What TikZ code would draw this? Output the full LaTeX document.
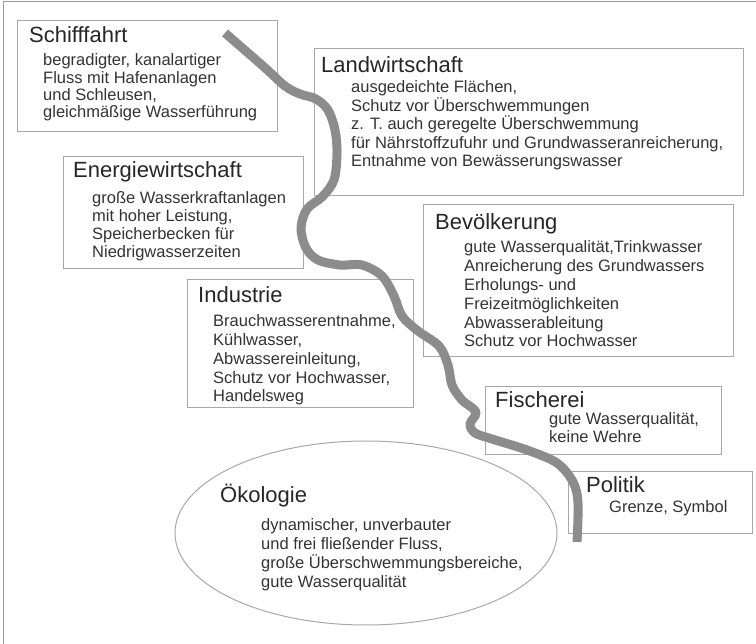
\documentclass[tikz,border=0pt]{standalone}
\usepackage{fontspec}
\setmainfont{Liberation Sans}
\definecolor{boxgray}{HTML}{A8A8A8}
\definecolor{framegray}{HTML}{9A9A9A}
\definecolor{rivergray}{HTML}{8C8C8C}
\definecolor{titlecol}{HTML}{262626}
\definecolor{bodycol}{HTML}{333333}
\begin{document}
\begin{tikzpicture}[x=1pt,y=-1pt,
  box/.style={draw=boxgray, line width=1pt},
  ttl/.style={anchor=base west, inner sep=0pt, text=titlecol, font=\fontsize{22}{26}\selectfont},
  body/.style={anchor=base west, inner sep=0pt, align=left, text=bodycol, font=\fontsize{16.5}{#1}\selectfont},
  body/.default=18.5,
  river/.style={draw=rivergray, line width=9pt, line cap=butt, line join=round}
]
\useasboundingbox (0,0) rectangle (756,644);
% outer frame (left and top)
\draw[framegray, line width=1pt] (3,644) -- (3,2) -- (756,2);

% boxes
\draw[box] (17,21) rectangle (277,132);
\draw[box] (314,49) rectangle (743,196);
\draw[box] (63,157) rectangle (303,269);
\draw[box] (423,205) rectangle (733,357);
\draw[box] (187,280) rectangle (413,408);
\draw[box] (485,387) rectangle (721,455);
\draw[box] (568,472) rectangle (752,534);
\draw[draw=boxgray, line width=1pt] (366,533) ellipse [x radius=191, y radius=92];

% river
\draw[river] plot[smooth, tension=0.55] coordinates {
 (225,33) (263,66) (285,86) (300,94) (316,99) (328,110) (335,130) (337,153)
 (334,180) (322,197) (307,209) (301,228) (306,248) (318,260) (340,265) (362,265)
 (382,276) (394,296) (402,316) (418,331) (439,346) (448,365) (452,385) (462,400)
 (476,412) (470,424) (475,433) (492,439) (527,450) (557,463) (573,482) (578,503)
 (577,542)};

% texts (multi-line nodes anchored at the baseline of their last line)
\node[ttl] (t1) at (29,43) {Schifffahrt};
\node[body=17.2] (b1) at (43,117.6) {begradigter, kanalartiger\\Fluss mit Hafenanlagen\\und Schleusen,\\gleichmäßige Wasserführung};

\node[ttl] (t2) at (321,73) {Landwirtschaft};
\node[body=18.5] (b2) at (351,167) {ausgedeichte Flächen,\\Schutz vor Überschwemmungen\\z. T. auch geregelte Überschwemmung\\für Nährstoffzufuhr und Grundwasseranreicherung,\\Entnahme von Bewässerungswasser};

\node[ttl] (t3) at (73,178) {Energiewirtschaft};
\node[body=18] (b3) at (92,258) {große Wasserkraftanlagen\\mit hoher Leistung,\\Speicherbecken für\\Niedrigwasserzeiten};

\node[ttl] (t4) at (435,230) {Bevölkerung};
\node[body=18.8] (b4) at (464,347) {gute Wasserqualität,Trinkwasser\\Anreicherung des Grundwassers\\Erholungs- und\\Freizeitmöglichkeiten\\Abwasserableitung\\Schutz vor Hochwasser};

\node[ttl] (t5) at (198,303) {Industrie};
\node[body=18.75] (b5) at (213,402) {Brauchwasserentnahme,\\Kühlwasser,\\Abwassereinleitung,\\Schutz vor Hochwasser,\\Handelsweg};

\node[ttl] (t6) at (495,408) {Fischerei};
\node[body=18] (b6) at (549,443) {gute Wasserqualität,\\keine Wehre};

\node[ttl] (t7) at (586,493) {Politik};
\node[body] (b7) at (609,513) {Grenze, Symbol};

\node[ttl] (t8) at (220,503) {Ökologie};
\node[body=19] (b8) at (261,587) {dynamischer, unverbauter\\und frei fließender Fluss,\\große Überschwemmungsbereiche,\\gute Wasserqualität};
\end{tikzpicture}
\end{document}
